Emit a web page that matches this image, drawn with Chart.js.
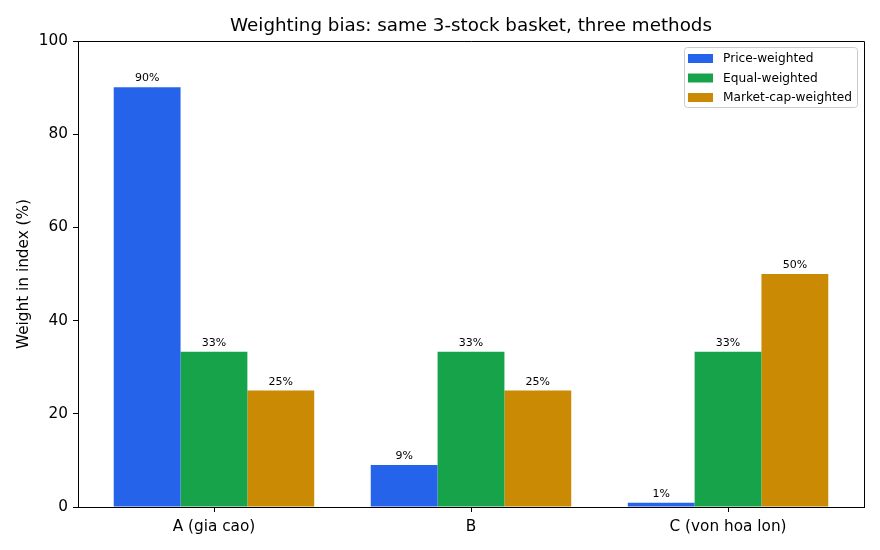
<!DOCTYPE html>
<html>
<head>
<meta charset="utf-8">
<script src="https://cdn.jsdelivr.net/npm/chart.js@4.4.1/dist/chart.umd.min.js"></script>
<style>
  body { margin: 0; background: #fff; }
  #chart { display: block; }
</style>
</head>
<body>
<canvas id="chart" width="880" height="550"></canvas>
<script>
const categories = ["A (gia cao)", "B", "C (von hoa lon)"];
const priceWeighted = [90.1, 9.0, 0.9];
const equalWeighted = [33.3, 33.3, 33.3];
const capWeighted = [25.0, 25.0, 50.0];
const seriesNames = ["Price-weighted", "Equal-weighted", "Market-cap-weighted"];
const seriesColors = ["#2563eb", "#16a34a", "#ca8a04"];
const yTicks = [0, 20, 40, 60, 80, 100];

const FONT = "'DejaVu Sans', sans-serif";

function toPoints(values) {
    return values.map((v, i) => ({ x: i, y: v }));
}

// title, y label, value labels, box frame and legend
const extras = {
    id: "extras",
    afterDatasetsDraw(chart) {
        const ctx = chart.ctx;
        const area = chart.chartArea;
        ctx.save();

        // value labels
        ctx.fillStyle = "#000";
        ctx.font = "11px " + FONT;
        ctx.textAlign = "center";
        ctx.textBaseline = "bottom";
        chart.data.datasets.forEach((ds, di) => {
            chart.getDatasetMeta(di).data.forEach((bar, i) => {
                ctx.fillText(Math.round(ds.data[i].y) + "%", bar.x, bar.y - 3);
            });
        });

        // frame top and right
        ctx.strokeStyle = "#000";
        ctx.lineWidth = 1;
        ctx.beginPath();
        ctx.moveTo(area.left, area.top + 0.5);
        ctx.lineTo(area.right + 0.5, area.top + 0.5);
        ctx.lineTo(area.right + 0.5, area.bottom);
        ctx.stroke();

        // x tick marks
        chart.scales.x.ticks.forEach(t => {
            const x = Math.round(chart.scales.x.getPixelForValue(t.value)) + 0.5;
            ctx.beginPath();
            ctx.moveTo(x, area.bottom);
            ctx.lineTo(x, area.bottom + 5);
            ctx.stroke();
        });

        // title
        ctx.font = "18.3px " + FONT;
        ctx.textBaseline = "middle";
        ctx.fillText("Weighting bias: same 3-stock basket, three methods", (area.left + area.right) / 2, 26);

        // y axis title
        ctx.save();
        ctx.translate(24, (area.top + area.bottom) / 2);
        ctx.rotate(-Math.PI / 2);
        ctx.font = "15.3px " + FONT;
        ctx.fillText("Weight in index (%)", 0, 0);
        ctx.restore();

        // legend
        const lx = 684, ly = 47, lw = 173, lh = 60;
        ctx.fillStyle = "rgba(255,255,255,0.8)";
        ctx.strokeStyle = "#cccccc";
        ctx.beginPath();
        ctx.roundRect(lx + 0.5, ly + 0.5, lw, lh, 3);
        ctx.fill();
        ctx.stroke();
        ctx.font = "12.2px " + FONT;
        ctx.textAlign = "left";
        seriesNames.forEach((name, i) => {
            const y = ly + 11 + i * 19.5;
            ctx.fillStyle = seriesColors[i];
            ctx.fillRect(688, y - 4, 25, 9);
            ctx.fillStyle = "#000";
            ctx.fillText(name, 723, y + 1);
        });

        ctx.restore();
    }
};

new Chart(document.getElementById("chart"), {
    type: "bar",
    data: {
        datasets: [
            { label: seriesNames[0], data: toPoints(priceWeighted), backgroundColor: seriesColors[0] },
            { label: seriesNames[1], data: toPoints(equalWeighted), backgroundColor: seriesColors[1] },
            { label: seriesNames[2], data: toPoints(capWeighted), backgroundColor: seriesColors[2] },
        ],
    },
    options: {
        responsive: false,
        animation: false,
        devicePixelRatio: 1,
        categoryPercentage: 0.78,
        barPercentage: 1.0,
        layout: { padding: { top: 41, right: 16, left: 0, bottom: 0 } },
        plugins: {
            legend: { display: false },
            title: { display: false },
            tooltip: { enabled: false },
        },
        scales: {
            x: {
                type: "linear",
                min: -0.529,
                max: 2.529,
                offset: false,
                afterBuildTicks: axis => { axis.ticks = categories.map((c, i) => ({ value: i })); },
                afterFit: axis => { axis.height = 43; },
                ticks: {
                    callback: v => categories[v],
                    color: "#000",
                    font: { family: FONT, size: 15.3 },
                    padding: 3,
                    maxRotation: 0,
                },
                grid: { display: false },
                border: { display: true, color: "#000" },
            },
            y: {
                min: 0,
                max: 100,
                afterBuildTicks: axis => { axis.ticks = yTicks.map(v => ({ value: v })); },
                afterFit: axis => { axis.width = 78; },
                ticks: {
                    color: "#000",
                    font: { family: FONT, size: 15.3 },
                    padding: 5,
                },
                grid: { offset: false, drawOnChartArea: false, drawTicks: true, tickLength: 5, color: "#000" },
                border: { display: true, color: "#000" },
            },
        },
    },
    plugins: [extras],
});
</script>
</body>
</html>
